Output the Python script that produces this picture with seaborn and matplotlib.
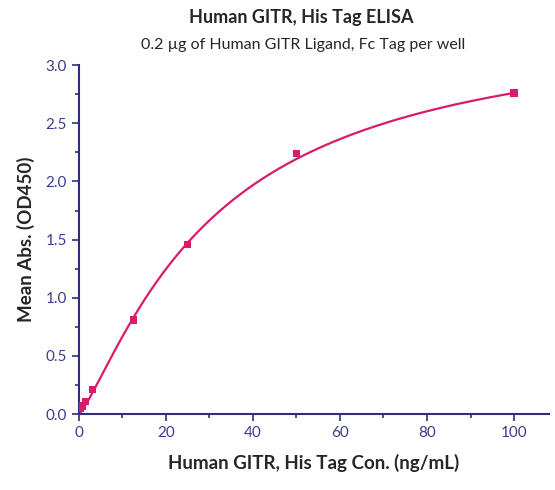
import numpy as np
import matplotlib
matplotlib.use("Agg")
import matplotlib.pyplot as plt
from matplotlib.ticker import MultipleLocator
import seaborn as sns

conc = [0.39, 0.78, 1.56, 3.125, 12.5, 25, 50, 100]
absorb = [0.05, 0.07, 0.11, 0.21, 0.81, 1.46, 2.24, 2.76]

sns.set_style("white")
plt.rcParams['font.family'] = ['Lato', 'DejaVu Sans']

# 4-parameter logistic fit by simple grid search
x = np.array(conc)
y = np.array(absorb)
best = None
for top in np.linspace(2.9, 6.0, 63):
    for ec50 in np.linspace(15, 150, 136):
        for hill in np.linspace(0.8, 1.6, 33):
            pred = top * x**hill / (ec50**hill + x**hill)
            err = ((pred - y) ** 2).sum()
            if best is None or err < best[0]:
                best = (err, top, ec50, hill)
_, top, ec50, hill = best
xs = np.linspace(0, 100, 300)
ys = top * xs**hill / (ec50**hill + xs**hill)

fig = plt.figure(figsize=(5.55, 4.9), dpi=100)
ax = fig.add_axes([0.142, 0.155, 0.847, 0.712])
pink = "#d81b6a"
sns.lineplot(x=xs, y=ys, ax=ax, color=pink, linewidth=1.6)
sns.scatterplot(x=conc, y=absorb, ax=ax, color=pink, marker="s", s=28, edgecolor="none", zorder=3)

ax.set_xlim(0, 108)
ax.set_ylim(0, 3.0)
ax.xaxis.set_major_locator(MultipleLocator(20))
ax.xaxis.set_minor_locator(MultipleLocator(10))
ax.yaxis.set_major_locator(MultipleLocator(0.5))
ax.yaxis.set_minor_locator(MultipleLocator(0.25))
ax.yaxis.set_major_formatter(plt.FormatStrFormatter('%.1f'))

navy = "#2e2e7a"
for s in ["top", "right"]:
    ax.spines[s].set_visible(False)
for s in ["left", "bottom"]:
    ax.spines[s].set_color(navy)
    ax.spines[s].set_linewidth(1.5)
ax.tick_params(which="both", direction="out", color=navy, width=1.2, labelcolor="#3c3c90", labelsize=11)
ax.tick_params(which="major", length=5, bottom=True, left=True)
ax.tick_params(which="minor", length=3, bottom=True, left=True)

ax.set_xlabel("Human GITR, His Tag Con. (ng/mL)", fontsize=13.5, fontweight="bold", labelpad=10)
ax.set_ylabel("Mean Abs. (OD450)", fontsize=13.5, fontweight="bold", labelpad=8)
fig.text(0.542, 0.965, "Human GITR, His Tag ELISA", ha="center", va="center", fontsize=13, fontweight="bold")
fig.text(0.547, 0.908, "0.2 µg of Human GITR Ligand, Fc Tag per well", ha="center", va="center", fontsize=11.5)

plt.savefig("out.png", dpi=100)
